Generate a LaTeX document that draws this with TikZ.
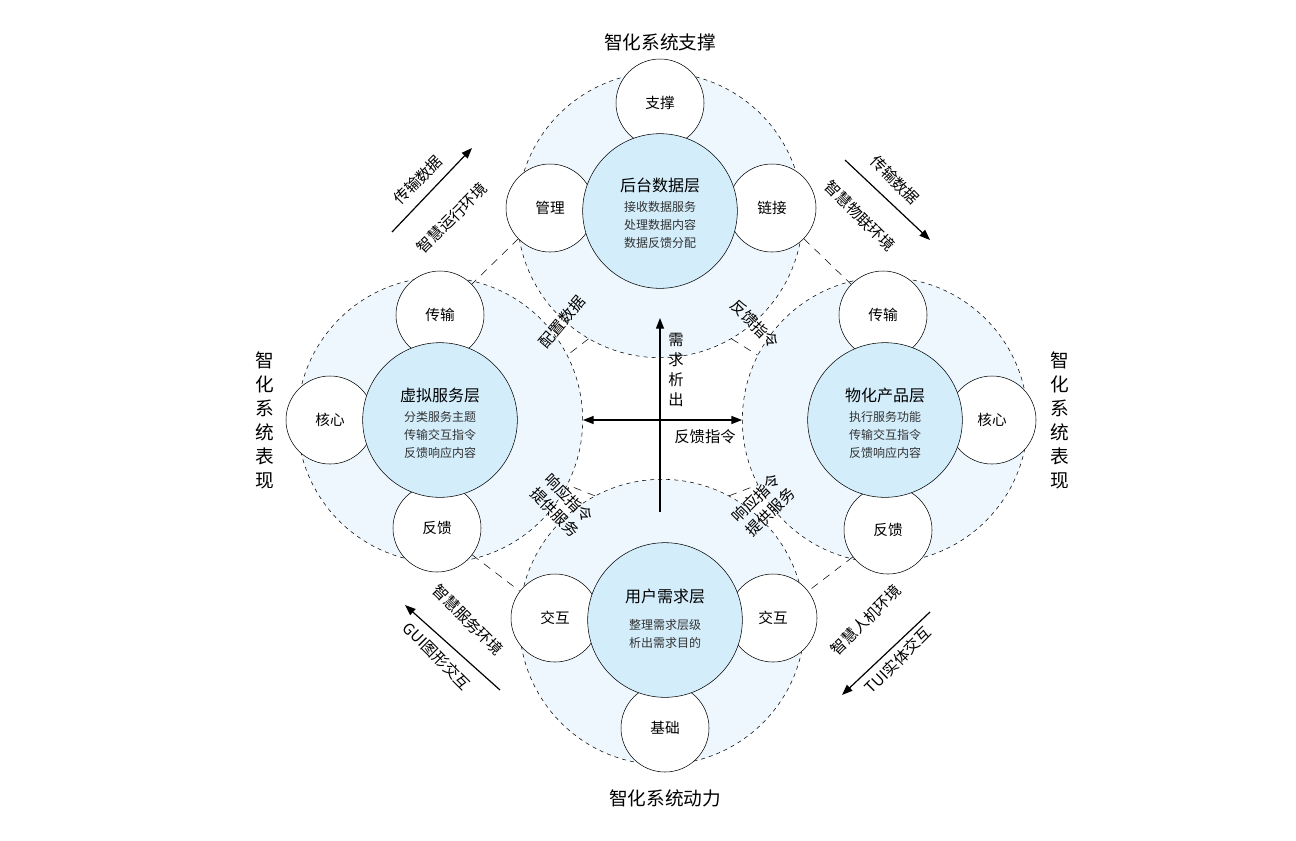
\documentclass[tikz,border=0pt]{standalone}
\usepackage{fontspec}
\setmainfont{Noto Sans CJK SC}
\usetikzlibrary{arrows.meta}
\definecolor{outerc}{HTML}{EEF7FD}
\definecolor{innerc}{HTML}{D3EDFB}
\begin{document}
\begin{tikzpicture}[x=0.75pt,y=-0.75pt,
 outerb/.style={circle,draw,dashed,fill=outerc,minimum size=214,inner sep=0},
 innerb/.style={circle,draw,fill=innerc,minimum size=116,inner sep=0},
 smallb/.style={circle,draw,fill=white,minimum size=66,inner sep=0,font=\fontsize{11}{13}\selectfont},
 conn/.style={dashed,dash pattern=on 6pt off 5pt},
 arr/.style={-{Triangle[length=8pt,width=6pt]},line width=0.9pt},
 lab/.style={font=\fontsize{11.5}{15}\selectfont,align=center},
 ttl/.style={font=\fontsize{14}{18}\selectfont,align=center},
 lyt/.style={font=\fontsize{12}{15}\selectfont},
 lyl/.style={font=\fontsize{9}{13.5}\selectfont,align=center,text=black!80}]
\useasboundingbox (0,0) rectangle (1296,840);
% outer circles
\node[outerb] (T) at (660,215) {};
\node[outerb] (L) at (440,420) {};
\node[outerb] (R) at (885,420) {};
\node[outerb] (B) at (662,622) {};
% small circles
\node[smallb] (t1) at (660,103) {支撑};
\node[smallb] (t2) at (550,208) {管理};
\node[smallb] (t3) at (772,208) {链接};
\node[smallb] (l1) at (440,315) {传输};
\node[smallb] (l2) at (330,420) {核心};
\node[smallb] (l3) at (437,528) {反馈};
\node[smallb] (r1) at (883,315) {传输};
\node[smallb] (r2) at (992,420) {核心};
\node[smallb] (r3) at (888,530) {反馈};
\node[smallb] (b1) at (555,618) {交互};
\node[smallb] (b2) at (773,618) {交互};
\node[smallb] (b3) at (665,728) {基础};
% inner circles
\node[innerb] (Ti) at (660,211) {};
\node[lyt] (Tt) at (660,185) {后台数据层};
\node[lyl] (Tl) at (660,225) {接收数据服务\\处理数据内容\\数据反馈分配};
\node[innerb] (Li) at (440,420) {};
\node[lyt] (Lt) at (440,395) {虚拟服务层};
\node[lyl] (Ll) at (440,435) {分类服务主题\\传输交互指令\\反馈响应内容};
\node[innerb] (Ri) at (885,420) {};
\node[lyt] (Rt) at (885,395) {物化产品层};
\node[lyl] (Rl) at (885,435) {执行服务功能\\传输交互指令\\反馈响应内容};
\node[innerb] (Bi) at (665,620) {};
\node[lyt] (Bt) at (665,596) {用户需求层};
\node[lyl] (Bl) at (665,634) {整理需求层级\\析出需求目的};
% dashed connectors
\draw[conn] (t2) -- (l1);
\draw[conn] (t3) -- (r1);
\draw[conn] (l3) -- (b1);
\draw[conn] (r3) -- (b2);
\draw[conn] (T.240) -- (L.27);
\draw[conn] (T.300) -- (R.153);
\draw[conn] (B.118) -- (L.-27);
\draw[conn] (B.62) -- (R.207);
% central arrows
\draw[{Triangle[length=8pt,width=6pt]}-{Triangle[length=8pt,width=6pt]},line width=0.9pt] (L.east) -- (R.west);
\coordinate (vs) at (660,512);
\coordinate (ve) at (660,318);
\draw[arr] (vs) -- (ve);
\node[lab] (nq) at (676,370) {需\\求\\析\\出};
\node[lab] (fk) at (705,437) {反馈指令};
% diagonal labels
\node[lab,rotate=50] (pz) at (562,322) {配置数据};
\node[lab,rotate=-45] (fz) at (755,324) {反馈指令};
\node[lab,rotate=-45] (xl) at (562,505) {响应指令\\提供服务};
\node[lab,rotate=45] (xr) at (763,505) {响应指令\\提供服务};
% outer arrows
\coordinate (a1) at (392,232); \coordinate (a2) at (472,148);
\draw[arr] (a1) -- (a2);
\node[lab,rotate=45] (a1t) at (418,180) {传输数据};
\node[lab,rotate=45] (a1b) at (452,218) {智慧运行环境};
\coordinate (b1s) at (845,160); \coordinate (b1e) at (930,240);
\draw[arr] (b1s) -- (b1e);
\node[lab,rotate=-45] (b1t) at (895,180) {传输数据};
\node[lab,rotate=-45] (b1b) at (860,216) {智慧物联环境};
\coordinate (c1s) at (500,690); \coordinate (c1e) at (405,605);
\draw[arr] (c1s) -- (c1e);
\node[lab,rotate=-45] (c1t) at (468,620) {智慧服务环境};
\node[lab,rotate=-45] (c1b) at (437,656) {GUI图形交互};
\coordinate (d1s) at (930,612); \coordinate (d1e) at (842,695);
\draw[arr] (d1s) -- (d1e);
\node[lab,rotate=45] (d1t) at (866,620) {智慧人机环境};
\node[lab,rotate=45] (d1b) at (898,660) {TUI实体交互};
% titles
\node[ttl] (tt) at (660,42) {智化系统支撑};
\node[ttl] (tb) at (665,798) {智化系统动力};
\node[ttl] (tl) at (265,420) {智\\化\\系\\统\\表\\现};
\node[ttl] (tr) at (1060,420) {智\\化\\系\\统\\表\\现};
\end{tikzpicture}
\end{document}
